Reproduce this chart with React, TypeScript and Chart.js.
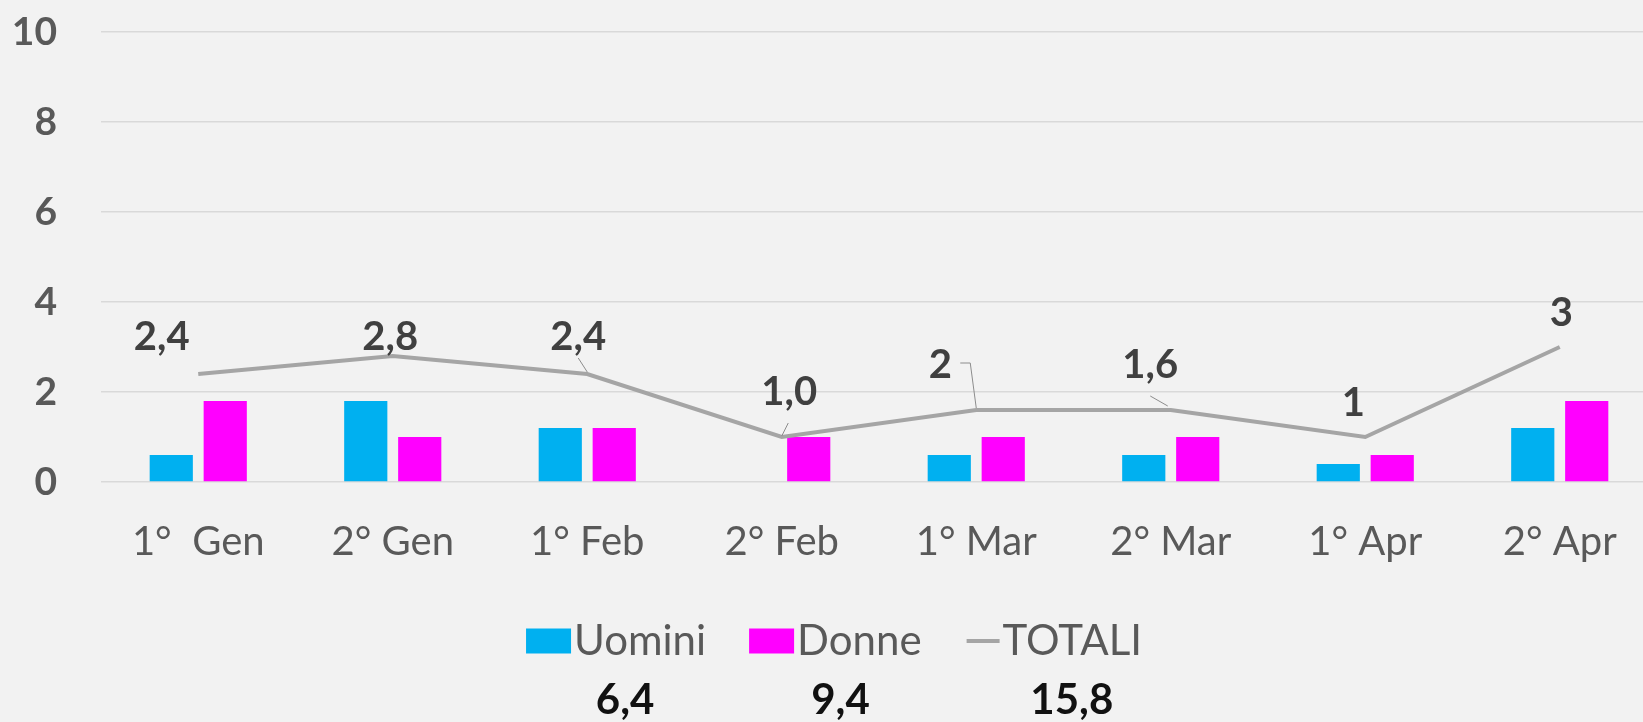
import React, { useEffect, useRef } from "react";
import { Chart, registerables } from "chart.js";

Chart.register(...registerables);

// ---- data ----
const categories = ["1°  Gen", "2° Gen", "1° Feb", "2° Feb", "1° Mar", "2° Mar", "1° Apr", "2° Apr"];
const uomini = [0.6, 1.8, 1.2, 0, 0.6, 0.6, 0.4, 1.2];
const donne = [1.8, 1.0, 1.2, 1.0, 1.0, 1.0, 0.6, 1.8];
const totali = [2.4, 2.8, 2.4, 1.0, 1.6, 1.6, 1.0, 3.0];
const totaliLabels = ["2,4", "2,8", "2,4", "1,0", "2", "1,6", "1", "3"];
const seriesNames = ["Uomini", "Donne", "TOTALI"];
const seriesTotals = ["6,4", "9,4", "15,8"];
const yMin = 0;
const yMax = 10;
const yStep = 2;

// ---- styles ----
const FONT = 'Lato, "Open Sans", "Noto Sans", sans-serif';
const BG = "#f2f2f2";
const BLUE = "#00b0f0";
const MAGENTA = "#ff00ff";
const GRAY_LINE = "#a5a5a5";
const GRID = "#d9d9d9";
const AXIS_TEXT = "#595959";
const LABEL_TEXT = "#404040";

// label placement relative to each line point (manually moved labels in original)
const labelOffsets: number[][] = [
  [-36.5, -37],
  [-2.5, -19],
  [-9, -37],
  [7.5, -45],
  [-36, -45],
  [-20.5, -45],
  [-12, -33.5],
  [1.5, -33.5],
];
const leaderLines: (number[][] | null)[] = [
  null,
  null,
  [[-9, -16], [0, -2]],
  [[6.5, -14], [0, -1]],
  [[-16, -47], [-6, -47], [0, -2]],
  [[-20.5, -14], [-3, -4]],
  null,
  null,
];
// where each grand total sits, as a fraction across its legend item
const totalsAnchor = [0.55, 0.53, 0.6];
const legendSpacing = [43, 45];

const lineLabelsPlugin = {
  id: "lineLabels",
  afterDatasetsDraw(chart: any) {
    const meta = chart.getDatasetMeta(2);
    const ctx = chart.ctx;
    ctx.save();
    ctx.strokeStyle = "#8c8c8c";
    ctx.lineWidth = 1;
    meta.data.forEach((pt: any, i: number) => {
      const l = leaderLines[i];
      if (!l) return;
      ctx.beginPath();
      l.forEach((p, k) => {
        const x = pt.x + p[0];
        const y = pt.y + p[1];
        if (k === 0) ctx.moveTo(x, y);
        else ctx.lineTo(x, y);
      });
      ctx.stroke();
    });
    ctx.font = `bold 40px ${FONT}`;
    ctx.fillStyle = LABEL_TEXT;
    ctx.textAlign = "center";
    ctx.textBaseline = "middle";
    meta.data.forEach((pt: any, i: number) => {
      const o = labelOffsets[i];
      ctx.fillText(totaliLabels[i], pt.x + o[0], pt.y + o[1]);
    });
    ctx.restore();
  },
};

const legendPlugin = {
  id: "customLegend",
  afterDraw(chart: any) {
    const ctx = chart.ctx;
    const area = chart.chartArea;
    const legendY = area.bottom + 159;
    const totalsY = area.bottom + 218;
    ctx.save();
    ctx.font = `42px ${FONT}`;
    const symW = [45, 45, 33];
    const gap = 3;
    const textW = seriesNames.map((n) => ctx.measureText(n).width);
    const itemW = textW.map((w, i) => symW[i] + gap + w);
    const total = itemW.reduce((a, b) => a + b, 0) + legendSpacing.reduce((a, b) => a + b, 0);
    let x = chart.width / 2 - total / 2;
    const colors = chart.data.datasets.map((d: any) => d.backgroundColor || d.borderColor);
    const starts: number[] = [];
    seriesNames.forEach((name, i) => {
      starts.push(x);
      if (i < 2) {
        ctx.fillStyle = colors[i];
        ctx.fillRect(x, legendY - 12.5, symW[i], 25);
      } else {
        ctx.strokeStyle = chart.data.datasets[i].borderColor;
        ctx.lineWidth = 4;
        ctx.beginPath();
        ctx.moveTo(x, legendY);
        ctx.lineTo(x + symW[i], legendY);
        ctx.stroke();
      }
      ctx.fillStyle = AXIS_TEXT;
      ctx.textAlign = "left";
      ctx.textBaseline = "middle";
      ctx.fillText(name, x + symW[i] + gap, legendY);
      x += itemW[i] + (legendSpacing[i] || 0);
    });
    ctx.font = `bold 42px ${FONT}`;
    ctx.fillStyle = "#111111";
    ctx.textAlign = "center";
    ctx.textBaseline = "middle";
    seriesTotals.forEach((t, i) => {
      ctx.fillText(t, starts[i] + itemW[i] * totalsAnchor[i], totalsY);
    });
    ctx.restore();
  },
};

export default function App() {
  const canvasRef = useRef<HTMLCanvasElement | null>(null);

  useEffect(() => {
    const canvas = canvasRef.current;
    if (!canvas) return;
    const chart = new Chart(canvas, {
      type: "bar",
      data: {
        labels: categories,
        datasets: [
          {
            type: "bar",
            label: seriesNames[0],
            data: uomini,
            backgroundColor: BLUE,
            borderWidth: 0,
            order: 1,
            categoryPercentage: 0.555,
            barPercentage: 0.8,
          } as any,
          {
            type: "bar",
            label: seriesNames[1],
            data: donne,
            backgroundColor: MAGENTA,
            borderWidth: 0,
            order: 1,
            categoryPercentage: 0.555,
            barPercentage: 0.8,
          } as any,
          {
            type: "line",
            label: seriesNames[2],
            data: totali,
            borderColor: GRAY_LINE,
            backgroundColor: GRAY_LINE,
            borderWidth: 4,
            pointRadius: 0,
            tension: 0,
            order: 0,
          } as any,
        ],
      },
      options: {
        responsive: false,
        animation: false,
        devicePixelRatio: 1,
        layout: { padding: { top: 32, right: 11, left: 0, bottom: 0 } },
        plugins: {
          legend: { display: false },
          tooltip: { enabled: false },
        },
        scales: {
          x: {
            grid: { display: false, drawTicks: false },
            border: { display: false },
            ticks: {
              color: AXIS_TEXT,
              font: { family: FONT, size: 40 },
              padding: 36,
              maxRotation: 0,
              autoSkip: false,
            },
            afterFit: (axis: any) => {
              axis.height = 240;
            },
          },
          y: {
            min: yMin,
            max: yMax,
            grid: { color: GRID, lineWidth: 1.5, drawTicks: false },
            border: { display: false },
            ticks: {
              stepSize: yStep,
              color: AXIS_TEXT,
              font: { family: FONT, size: 39, weight: "bold" },
              padding: 44,
            },
            afterFit: (axis: any) => {
              axis.width = 101;
              axis.paddingTop = 20;
              axis.paddingBottom = 20;
            },
          },
        },
      },
      plugins: [lineLabelsPlugin, legendPlugin],
    });
    return () => chart.destroy();
  }, []);

  return (
    <div
      style={{
        position: "fixed",
        left: 0,
        top: 0,
        width: 1643,
        height: 722,
        overflow: "hidden",
        background: BG,
      }}
    >
      <canvas ref={canvasRef} width={1668} height={722} style={{ display: "block" }} />
    </div>
  );
}
